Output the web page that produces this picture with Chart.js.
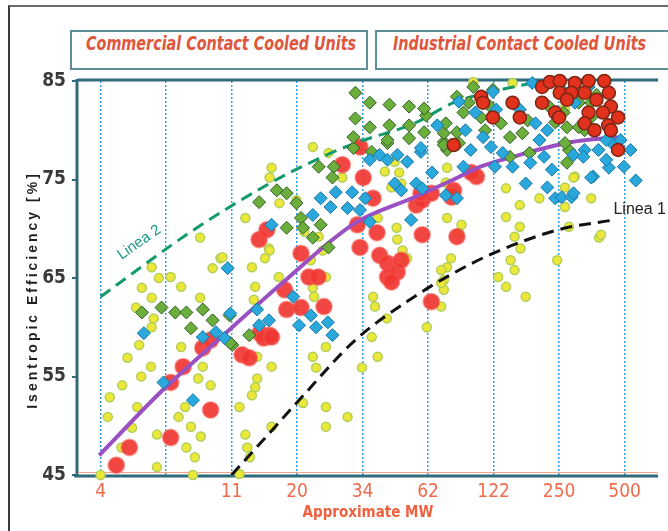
<!DOCTYPE html>
<html>
<head>
<meta charset="utf-8">
<script src="https://cdn.jsdelivr.net/npm/chart.js@4.4.1/dist/chart.umd.min.js"></script>
<style>
  body { margin: 0; background: #fff; overflow: hidden; }
  #wrap { position: relative; width: 668px; height: 531px; overflow: hidden; }
  #frame { position: absolute; left: 8px; top: 5px; width: 700px; height: 600px;
           border-left: 2px solid #3c3c3c; border-top: 2px solid #6a6a6a; }
  .hdr { position: absolute; top: 30px; height: 40px; box-sizing: border-box; overflow: hidden;
         border: 2px solid #5d8e99; color: #e0563c; line-height: 38px; white-space: nowrap;
         font: italic bold 19px 'Liberation Sans Narrow', 'DejaVu Sans Condensed', sans-serif; }
  .hdr span { display: inline-block; transform: scaleX(0.84); transform-origin: left center; }
  #chartBox { position: absolute; left: 0; top: 0; width: 668px; height: 531px; }
</style>
</head>
<body>
<div id="wrap">
  <div id="frame"></div>
  <div class="hdr" style="left:70px;width:298px;padding-left:14px"><span>Commercial Contact Cooled Units</span></div>
  <div class="hdr" style="left:375px;width:320px;padding-left:16px"><span>Industrial Contact Cooled Units</span></div>
  <div id="chartBox"><canvas id="chart"></canvas></div>
</div>
<script>
// x positions are category slots: 0 -> 4 MW, 1 -> (unlabelled), 2 -> 11 MW ...
const mwLabels = ['4', '', '11', '20', '34', '62', '122', '250', '500'];
const yTitle = 'Isentropic Efficiency [%]';

// small yellow circles
const smallUnits = [
  [1.52,69.1],[0.78,66.1],[0.89,65.0],[1.07,65.1],[0.63,64.0],[1.23,64.1],[0.78,63.0],[1.52,63.0],
  [1.71,66.0],[1.83,67.0],[2.31,66.1],[2.51,67.0],[2.57,68.0],[2.36,64.1],[0.54,62.0],[0.81,60.9],
  [0.78,60.0],[0.59,58.2],[1.23,58.0],[0.41,56.9],[0.77,56.0],[0.62,55.0],[1.56,56.0],[1.49,54.8],
  [0.33,54.1],[1.68,54.1],[0.14,52.9],[0.56,51.9],[1.29,51.9],[0.11,50.9],[1.19,50.9],[0.48,49.8],
  [1.38,49.9],[1.53,48.9],[0.86,49.1],[1.31,47.8],[0.32,47.8],[1.44,46.8],[0.86,45.8],[2.34,62.8],
  [2.39,57.0],[2.61,56.0],[2.39,54.8],[2.31,53.1],[2.12,51.9],[2.21,49.1],[2.24,47.8],[2.28,46.8],
  [2.61,49.9],[1.41,45.0],[2.12,45.1],[0.0,45.0],
  [2.21,71.1],[2.61,76.2],[2.58,75.2],[2.58,67.8],[2.72,65.1],[3.24,64.0],[3.26,63.1],[3.44,65.1],
  [3.39,67.8],[3.21,66.8],[2.36,53.9],[3.24,57.0],[3.29,55.9],[3.44,58.0],[3.44,51.9],[3.44,49.9],
  [3.77,50.9],[3.99,55.9],[4.23,57.0],[4.14,59.0],[4.19,62.1],[4.16,63.1],[4.37,60.9],[4.23,71.1],
  [4.52,70.1],[4.53,68.9],[4.61,67.8],[4.68,67.0],[4.56,75.7],[4.59,74.6],[4.44,74.2],[4.98,60.0],
  [5.20,62.1],[5.29,66.1],[5.29,71.1],[5.24,64.8],[5.24,63.8],[3.24,78.3],[3.48,77.7],[3.69,75.2],
  [3.93,78.3],[4.34,75.8],[4.49,76.8],[1.86,67.1],[2.99,72.9],[2.73,72.6],[3.11,69.7],[3.33,69.2],
  [3.09,52.3],
  [5.29,76.2],[5.27,74.7],[5.47,69.6],[5.51,70.4],[5.35,67.0],[5.20,65.8],[5.20,64.5],[6.19,74.1],
  [6.19,71.2],[6.40,72.4],[6.40,70.2],[6.32,69.2],[6.41,68.0],[6.26,66.8],[6.32,65.8],[6.07,65.1],
  [6.19,64.1],[6.49,63.1],[6.70,73.1],[7.09,74.2],[7.49,73.1],[7.61,69.1],[6.97,66.8],[7.15,70.2],
  [7.24,75.3],[6.29,84.8],[7.09,82.3],[7.49,80.3],[5.69,84.9],[7.22,75.2],[7.09,72.2],[7.64,69.4]
];

// green diamonds
const greenUnits = [
  [0.63,61.5],[0.93,62.0],[1.14,61.5],[1.31,61.5],[1.56,61.8],[1.71,60.7],[1.38,59.9],[1.97,61.2],
  [2.01,58.2],[2.27,59.2],
  [2.42,72.7],[2.69,73.9],[2.84,73.6],[2.84,70.1],[2.99,72.6],[3.06,71.1],[3.09,70.1],[3.24,69.1],
  [3.36,70.4],[3.48,68.1],[3.33,76.3],[3.56,76.3],[3.54,75.2],[1.98,58.4],[3.86,78.2],[4.14,77.8],
  [4.38,78.7],[5.24,78.8],[5.29,78.0],
  [3.89,83.8],[4.11,82.8],[4.11,80.3],[4.41,82.6],[4.41,80.5],[4.38,79.0],[4.71,82.4],[4.71,80.5],
  [4.71,79.2],[4.97,81.5],[4.94,79.8],[3.89,81.2],[3.86,79.3],[5.24,79.7],[5.24,78.5],[5.47,78.7],
  [5.69,84.4],[5.62,82.8],[5.54,81.8],[5.27,80.7],[5.44,79.8],[5.81,81.3],[5.87,80.0],[5.95,82.4],
  [6.11,80.7],[6.25,79.3],[6.29,82.8],[6.44,79.7],[6.52,81.0],[6.55,77.7],[6.25,77.3],[6.85,82.4],
  [6.94,80.8],[7.07,81.8],[7.12,80.3],[7.15,78.0],[7.12,76.7],[7.30,82.8],[7.39,80.0],[7.49,81.3],
  [7.57,83.6],[4.94,82.2],[5.99,84.1],[5.44,83.4],[7.09,78.7],[7.30,80.3],[7.49,82.8]
];

// blue diamonds
const blueUnits = [
  [0.66,59.4],[1.94,66.0],[1.56,59.0],[1.76,59.5],[1.89,58.9],[0.96,54.4],[1.41,52.6],[2.39,61.8],
  [2.57,60.7],[2.42,60.2],[1.98,61.4],
  [2.61,70.4],[3.24,71.4],[3.36,73.1],[3.51,72.2],[3.59,73.7],[3.77,72.1],[3.84,73.7],[3.96,71.9],
  [4.04,73.1],[4.11,70.7],[4.11,77.0],[4.26,77.5],[4.38,77.0],[4.53,77.5],[4.68,76.8],[4.49,74.6],
  [4.59,73.9],[4.82,74.6],[4.89,77.8],[5.06,75.7],[4.74,70.9],[5.27,73.4],[2.94,63.1],[3.03,60.2],
  [3.21,61.2],[3.29,60.0],[3.47,60.5],[3.54,59.2],
  [5.14,80.5],[4.89,78.2],
  [5.47,82.9],[5.65,78.0],[5.54,76.3],[5.57,80.0],[5.72,81.8],[5.84,79.3],[5.96,78.3],[5.99,83.9],
  [6.04,82.1],[6.14,77.7],[6.02,76.3],[6.29,76.3],[6.40,82.1],[6.56,76.7],[6.49,74.6],[6.70,79.0],
  [6.77,77.3],[6.89,76.0],[6.82,74.2],[6.94,73.1],[7.04,73.2],[7.19,73.2],[7.22,77.5],[7.39,78.0],
  [7.52,75.3],[7.60,78.0],[7.79,78.8],[7.94,79.0],[7.76,76.2],[7.99,76.3],[8.09,78.0],[8.17,74.9],
  [6.82,80.0],[6.64,80.7],[6.59,84.8],[7.00,84.8],[7.45,84.4],[5.44,73.1],[4.91,74.1],
  [7.72,77.0],[7.49,75.2],[7.22,73.6],[7.37,77.3],[7.72,79.0],[7.24,82.8],[7.09,83.8]
];

// large red circles (commercial)
const redUnits = [
  [0.24,46.0],[0.44,47.8],[1.07,48.8],[1.68,51.6],[1.07,54.4],[1.26,56.0],[1.56,57.9],[1.68,58.7],
  [2.16,57.2],[2.27,56.9],[2.43,59.4],[2.58,59.2],[2.42,68.9],
  [2.54,69.9],[3.69,76.5],[3.06,67.5],[3.18,65.1],[3.32,65.1],[2.81,63.8],[2.84,61.8],[3.06,62.0],
  [3.41,62.1],[2.49,58.9],[2.61,59.0],[4.01,75.2],[4.16,73.1],[3.92,70.4],[3.96,68.1],[4.22,69.6],
  [4.26,67.3],[4.38,66.5],[4.38,65.1],[4.53,65.6],[4.59,66.8],[4.44,64.6],[4.82,72.4],[4.91,72.9],
  [5.05,73.6],[4.91,69.4],[5.05,62.6],[5.36,73.2],[3.96,78.3],
  [4.89,73.6],[5.39,73.9],[5.74,75.3],[5.66,75.7],[5.44,69.2]
];

// dark-edged red circles (industrial)
const industrialRed = [
  [5.81,83.4],[5.84,82.8],[6.29,82.8],[6.40,81.3],[5.39,78.5],[6.74,82.8],[6.74,84.4],[6.86,84.9],
  [7.01,85.0],[7.24,84.8],[7.45,85.0],[7.69,85.0],[7.01,83.8],[7.19,83.8],[7.39,83.8],[7.57,83.1],
  [7.76,83.8],[7.79,82.4],[7.67,81.8],[7.90,81.3],[7.75,80.5],[7.45,81.8],[7.39,80.7],[7.54,80.0],
  [7.90,78.0],[5.99,81.3],[6.94,81.8],[7.12,83.1],[7.00,81.3],[7.79,80.0]
];

const trendLine = [[-0.02,47.0],[0.93,53.5],[1.86,59.1],[2.69,64.0],[3.89,70.6],[4.79,73.2],
  [5.39,75.0],[5.80,76.3],[6.29,77.3],[7.19,78.8],[7.90,79.3]];
const linea2 = [[0,63.1],[1.38,69.7],[2.58,74.6],[3.29,77.0],[3.89,78.7],[4.79,80.7],[5.39,82.8],
  [6.10,84.1],[6.59,84.8]];
const linea1 = [[2.0,45.0],[2.49,48.6],[2.99,52.3],[3.89,58.7],[4.79,63.1],[5.39,65.5],[5.99,67.5],
  [6.99,69.9],[7.84,70.9]];

const narrow = "'Liberation Sans Narrow', 'DejaVu Sans Condensed', sans-serif";
const pts = arr => arr.map(p => ({x: p[0], y: p[1]}));

function curve(data, color, width, dash, order) {
  return {
    data: pts(data), showLine: true, borderColor: color, borderWidth: width, borderDash: dash,
    pointRadius: 0, cubicInterpolationMode: 'monotone', fill: false, order: order
  };
}

const framePlugin = {
  id: 'frame',
  beforeDatasetsDraw(chart) {
    const {ctx, chartArea: a} = chart;
    ctx.save();
    ctx.strokeStyle = '#2f6b7b';
    ctx.lineWidth = 3;
    ctx.beginPath();
    ctx.moveTo(a.left, a.top - 1); ctx.lineTo(a.right, a.top - 1);
    ctx.moveTo(a.left - 1, a.top - 2); ctx.lineTo(a.left - 1, a.bottom + 2);
    ctx.moveTo(a.left - 4, a.bottom + 1); ctx.lineTo(a.right, a.bottom + 1);
    ctx.stroke();
    ctx.strokeStyle = '#f4a28c';
    ctx.lineWidth = 1;
    ctx.beginPath();
    ctx.moveTo(a.left, a.bottom - 2.5); ctx.lineTo(a.right, a.bottom - 2.5);
    ctx.stroke();
    // y axis title, letter-spaced like the original
    ctx.save();
    ctx.font = "bold 14px 'Liberation Sans', sans-serif";
    ctx.letterSpacing = '3px';
    ctx.fillStyle = '#1e1e1e';
    ctx.translate(33, 290);
    ctx.rotate(-Math.PI / 2);
    ctx.textAlign = 'center';
    ctx.textBaseline = 'middle';
    ctx.fillText(yTitle, 0, 0);
    ctx.restore();
    ctx.restore();
  },
  afterDatasetsDraw(chart) {
    const {ctx, scales: {x, y}} = chart;
    ctx.save();
    ctx.font = "15px 'Liberation Sans', sans-serif";
    ctx.fillStyle = '#1a9a86';
    ctx.translate(x.getPixelForValue(0.59), y.getPixelForValue(68.6));
    ctx.rotate(-35 * Math.PI / 180);
    ctx.textAlign = 'center';
    ctx.textBaseline = 'middle';
    ctx.fillText('Linea 2', 0, 0);
    ctx.restore();
    ctx.save();
    ctx.font = "16px 'Liberation Sans', sans-serif";
    ctx.fillStyle = '#222';
    ctx.textBaseline = 'middle';
    ctx.fillText('Linea 1', x.getPixelForValue(7.83), y.getPixelForValue(71.9));
    ctx.restore();
  }
};

new Chart(document.getElementById('chart'), {
  type: 'scatter',
  data: {
    datasets: [
      { data: pts(industrialRed), pointStyle: 'circle', pointRadius: 6.5, backgroundColor: '#e2321e',
        borderColor: '#7c2614', borderWidth: 1.5, order: 0, clip: false },
      { data: pts(blueUnits), pointStyle: 'rectRot', pointRadius: 6.5, backgroundColor: '#2aa8dc',
        borderColor: '#1877a8', borderWidth: 1, order: 1, clip: false },
      { data: pts(greenUnits), pointStyle: 'rectRot', pointRadius: 6.5, backgroundColor: '#6cae3c',
        borderColor: '#2f5e26', borderWidth: 1, order: 2, clip: false },
      curve(trendLine, '#9a50c2', 4, [], 3),
      curve(linea2, '#12996c', 3, [12, 7], 3),
      curve(linea1, '#111111', 3, [12, 7], 3),
      { data: pts(redUnits), pointStyle: 'circle', pointRadius: 8, backgroundColor: 'rgba(240,54,50,0.92)',
        borderColor: 'rgba(244,90,80,0.5)', borderWidth: 2, order: 4, clip: false },
      { data: pts(smallUnits), pointStyle: 'circle', pointRadius: 4.5, backgroundColor: '#ece83a',
        borderColor: '#b2cf5a', borderWidth: 1.5, order: 5, clip: false }
    ]
  },
  options: {
    responsive: true,
    maintainAspectRatio: false,
    animation: false,
    layout: { padding: { left: 12, top: 81, right: 0, bottom: 0 } },
    plugins: { legend: { display: false }, tooltip: { enabled: false } },
    scales: {
      x: {
        type: 'linear', min: -0.345, max: 8.51,
        afterBuildTicks(scale) { scale.ticks = mwLabels.map((l, i) => ({ value: i })); },
        ticks: { callback: v => mwLabels[v], color: '#f26a4c', font: { family: narrow, size: 19 },
                 padding: 6, autoSkip: false, maxRotation: 0 },
        grid: { color: '#3d9bd3', lineWidth: 1.5, drawTicks: false },
        border: { display: false, dash: [2, 2] },
        title: { display: true, text: 'Approximate MW', color: '#f0603e',
                 font: { family: narrow, size: 15, weight: 'bold' }, padding: { bottom: 9 } },
        afterFit(scale) { scale.height = 56; }
      },
      y: {
        min: 45, max: 85,
        ticks: { stepSize: 10, color: '#3a3a3a', font: { family: narrow, size: 19, weight: 'bold' }, padding: 6 },
        grid: { drawOnChartArea: false, drawTicks: true, tickLength: 6, color: '#2f6b7b', lineWidth: 2 },
        border: { display: false },
        title: { display: false },
        afterFit(scale) { scale.width = 66; }
      }
    }
  },
  plugins: [framePlugin]
});
</script>
</body>
</html>
